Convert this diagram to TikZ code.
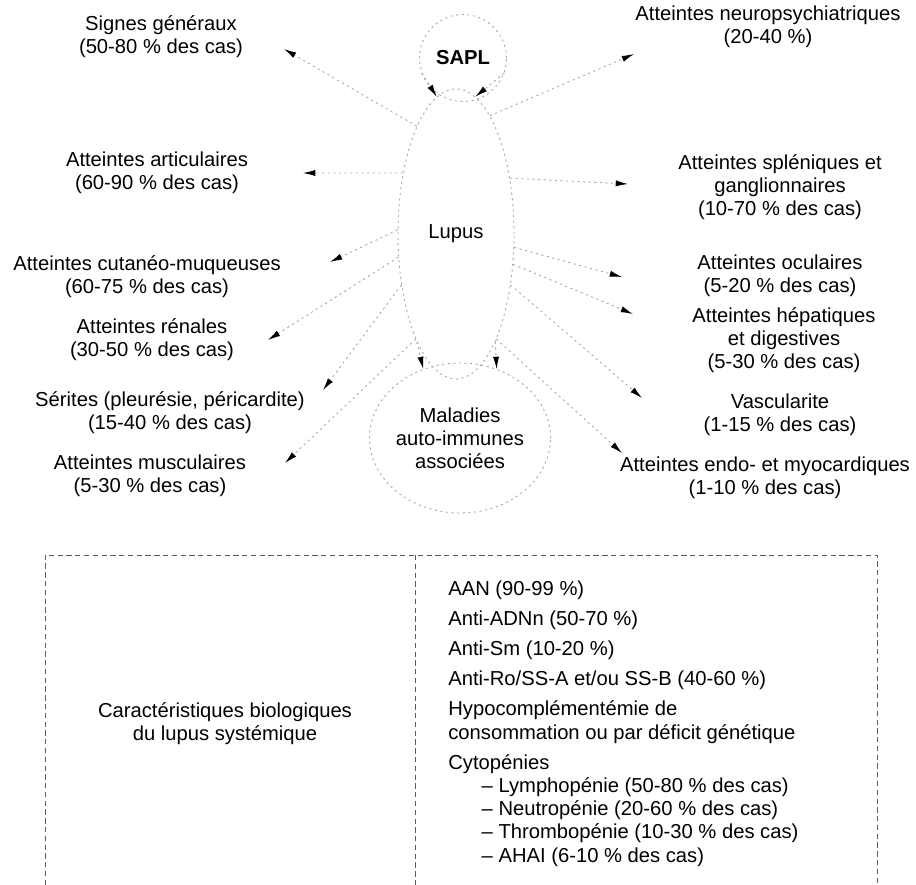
\documentclass[tikz,border=0pt]{standalone}
\usepackage{fontspec}
\setmainfont{Liberation Sans}
\usetikzlibrary{shapes.geometric,arrows.meta}

\begin{document}
\begin{tikzpicture}[x=0.02cm,y=-0.02cm,
	font=\fontsize{11.5}{13.2}\selectfont,
	lbl/.style={align=center,inner sep=0pt},
	dots/.style={draw=gray!70,dash pattern=on 1.2pt off 2pt,line width=0.5pt},
	arr/.style={dots,-{Latex[length=7pt,width=3.5pt,black]}},
	tbl/.style={draw=black!65,densely dashed,line width=0.5pt}]
	
	\useasboundingbox (0,0) rectangle (916,885);
	
	% the three centres
	\node[ellipse,dots,inner sep=0pt,minimum width=2.32cm,minimum height=5.8cm] (lupus) at (456,234) {Lupus};
	\node[circle,dots,inner sep=0pt,minimum size=1.74cm] (sapl) at (463,58) {\textbf{SAPL}};
	\node[ellipse,dots,inner sep=0pt,minimum width=3.35cm,minimum height=3cm,align=center] (mai) at (460,438) {Maladies\\auto-immunes\\associées};
	
	% left labels
	\node[lbl] (sg) at (161,37) {Signes généraux\\(50-80 \% des cas)};
	\node[lbl] (art) at (157,173) {Atteintes articulaires\\(60-90 \% des cas)};
	\node[lbl] (cut) at (147,277) {Atteintes cutanéo-muqueuses\\(60-75 \% des cas)};
	\node[lbl] (ren) at (152,340) {Atteintes rénales\\(30-50 \% des cas)};
	\node[lbl] (ser) at (170,413) {Sérites (pleurésie, péricardite)\\(15-40 \% des cas)};
	\node[lbl] (mus) at (150,476) {Atteintes musculaires\\(5-30 \% des cas)};
	
	% right labels
	\node[lbl] (neu) at (768,27) {Atteintes neuropsychiatriques\\(20-40 \%)};
	\node[lbl] (spl) at (780,187) {Atteintes spléniques et\\ganglionnaires\\(10-70 \% des cas)};
	\node[lbl] (ocu) at (780,276) {Atteintes oculaires\\(5-20 \% des cas)};
	\node[lbl] (hep) at (784,340) {Atteintes hépatiques\\et digestives\\(5-30 \% des cas)};
	\node[lbl] (vas) at (780,415) {Vascularite\\(1-15 \% des cas)};
	\node[lbl] (endo) at (765,478) {Atteintes endo- et myocardiques\\(1-10 \% des cas)};
	
	% SAPL and associated diseases
	\draw[arr] (sapl.200) -- (lupus.98);
	\draw[arr] (sapl.340) -- (lupus.82);
	\draw[arr] (lupus.250) -- (mai.118);
	\draw[arr] (lupus.290) -- (mai.62);
	
	% arrows to the left
	\draw[arr] (lupus.110) -- ([shift={(123,12)}]sg.center);
	\draw[arr] (lupus.131) -- ([shift={(146,0)}]art.center);
	\draw[arr] (lupus.176) -- ([shift={(183,-15)}]cut.center);
	\draw[arr] (lupus.202) -- ([shift={(116,0)}]ren.center);
	\draw[arr] (lupus.223) -- ([shift={(153,-23)}]ser.center);
	\draw[arr] (lupus.249) -- ([shift={(135,-13)}]mus.center);
	
	% arrows to the right
	\draw[arr] (lupus.74) -- ([shift={(-134,27)}]neu.center);
	\draw[arr] (lupus.46) -- ([shift={(-152,-3)}]spl.center);
	\draw[arr] (lupus.-13) -- ([shift={(-158,1)}]ocu.center);
	\draw[arr] (lupus.-28) -- ([shift={(-151,-26)}]hep.center);
	\draw[arr] (lupus.-43) -- ([shift={(-138,-17)}]vas.center);
	\draw[arr] (lupus.-69) -- ([shift={(-143,-25)}]endo.center);
	
	% table
	\draw[tbl] (45,885) -- (45,555) -- (877,555) -- (877,885);
	\draw[tbl] (415,555) -- (415,885);
	
	\node[lbl] (carac) at (225,724) {Caractéristiques biologiques\\du lupus systémique};
	\node[anchor=north west,align=left,inner sep=0pt] (bio) at (448,580) {%
		AAN (90-99 \%)\\[4pt]
		Anti-ADNn (50-70 \%)\\[4pt]
		Anti-Sm (10-20 \%)\\[4pt]
		Anti-Ro/SS-A et/ou SS-B (40-60 \%)\\[4pt]
		Hypocomplémentémie de\\
		consommation ou par déficit génétique\\[4pt]
		Cytopénies\\
		\hspace*{19pt}– Lymphopénie (50-80 \% des cas)\\
		\hspace*{19pt}– Neutropénie (20-60 \% des cas)\\
		\hspace*{19pt}– Thrombopénie (10-30 \% des cas)\\
		\hspace*{19pt}– AHAI (6-10 \% des cas)};
	
\end{tikzpicture}
\end{document}
